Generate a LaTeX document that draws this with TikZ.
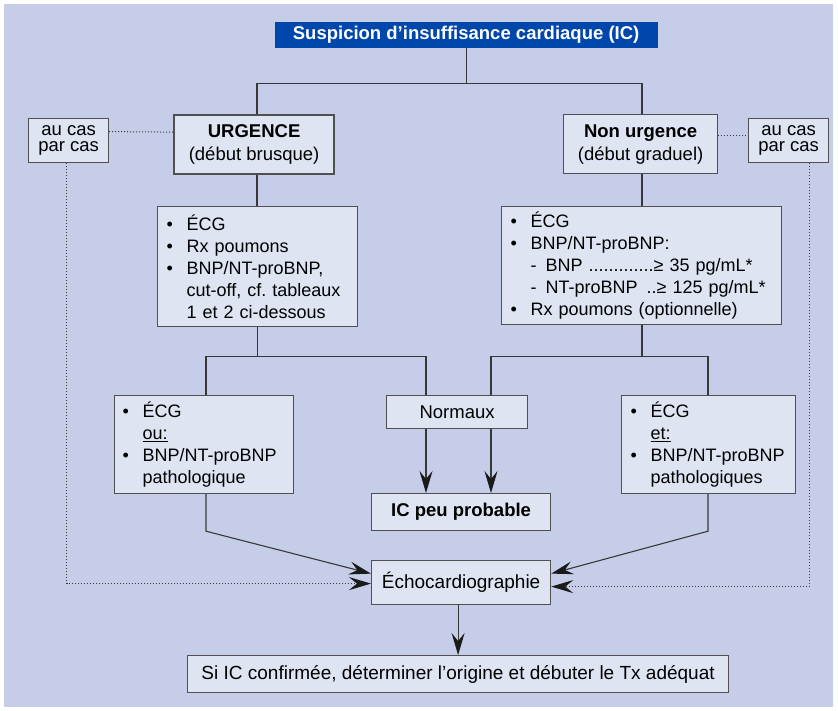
\documentclass[tikz,border=0pt]{standalone}
\usepackage{fontspec}
\setmainfont{Liberation Sans}
\usetikzlibrary{arrows.meta,calc}
\definecolor{panel}{HTML}{C6CDE8}
\definecolor{boxfill}{HTML}{DFE4F3}
\definecolor{titleblue}{HTML}{0047AB}
\definecolor{linec}{HTML}{383838}
\definecolor{boxline}{HTML}{505050}
\definecolor{tipc}{HTML}{1A1A1A}
\newcommand{\bul}{\makebox[20pt][l]{\textbullet}}
\newcommand{\ind}{\hspace*{20pt}}
\newcommand{\dsh}{\makebox[15pt][l]{-}}
\frenchspacing
\begin{document}
\begin{tikzpicture}[x=1pt,y=-1pt,
  box/.style={draw=boxline, line width=1.2pt, fill=boxfill, inner sep=0pt, anchor=north west,
    font=\fontsize{18.5}{23}\selectfont, align=center},
  listbox/.style={box, inner xsep=9pt, align=left, font=\fontsize{18}{22}\selectfont},
  conn/.style={draw=linec, line width=1.1pt},
  tip/.style={-{Stealth[length=22pt,width=13pt,inset=8pt,color=tipc]}},
  arr/.style={conn, tip},
  dotl/.style={draw=linec, line width=1pt, dotted},
  darr/.style={dotl, tip},
]
\useasboundingbox (0,0) rectangle (838,710);
\fill[panel] (4,4) rectangle (833,707);

% title
\node[box, draw=none, fill=titleblue, text=white, font=\fontsize{18.5}{22}\selectfont\bfseries,
  minimum width=383pt, minimum height=26pt] (title) at (274,21) {Suspicion d’insuffisance cardiaque (IC)};

% level 1
\node[box, line width=2.2pt, minimum width=160pt, minimum height=59pt] (urg) at (173,114)
  {\textbf{URGENCE}\\(début brusque)};
\node[box, minimum width=154pt, minimum height=59pt] (non) at (563,114)
  {\textbf{Non urgence}\\(début graduel)};
\node[box, font=\fontsize{18.5}{16.5}\selectfont, minimum width=80pt, minimum height=44pt] (aucL) at (28,118)
  {au cas\\par cas};
\node[box, font=\fontsize{18.5}{16.5}\selectfont, minimum width=80pt, minimum height=44pt] (aucR) at (748,118)
  {au cas\\par cas};

% level 2
\node[listbox, text width=182pt, minimum height=120pt] (b1) at (157,206)
  {\bul ÉCG\\ \bul Rx poumons\\ \bul BNP/NT-proBNP,\\ \ind cut-off, cf. tableaux\\ \ind 1 et 2 ci-dessous};
\node[listbox, text width=262pt, minimum height=118pt] (b2) at (501,206)
  {\bul ÉCG\\ \bul BNP/NT-proBNP:\\ \ind\dsh BNP .............≥ 35 pg/mL*\\ \ind\dsh NT-proBNP \,..≥ 125 pg/mL*\\ \bul Rx poumons (optionnelle)};

% level 3
\node[listbox, inner xsep=8pt, text width=163pt, minimum height=98pt] (b3) at (114,395)
  {\bul ÉCG\\ \ind\underline{ou:}\\ \bul BNP/NT-proBNP\\ \ind pathologique};
\node[box, minimum width=141pt, minimum height=33pt] (norm) at (386,395) {Normaux};
\node[listbox, text width=156pt, minimum height=98pt] (b4) at (621,395)
  {\bul ÉCG\\ \ind\underline{et:}\\ \bul BNP/NT-proBNP\\ \ind pathologiques};

\node[box, minimum width=179pt, minimum height=37pt] (ic) at (371,493) {\textbf{IC peu probable}};
\node[box, minimum width=179pt, minimum height=44pt, font=\fontsize{19}{23}\selectfont] (echo) at (371,560) {Échocardiographie};
\node[box, minimum width=541pt, minimum height=37pt, font=\fontsize{19}{23}\selectfont] (fin) at (187,655)
  {Si IC confirmée, déterminer l’origine et débuter le Tx adéquat};

% helper coordinates
\coordinate (xl) at (257,0);
\coordinate (xr) at (642,0);
\coordinate (b3x) at (206,0);
\coordinate (nlx) at (426,0);
\coordinate (nrx) at (491,0);
\coordinate (b4x) at (708,0);

% connectors top
\draw[conn] (title.south) -- ++(0,35) coordinate (tj);
\draw[conn] (urg.north -| xl) |- (tj) -| (non.north -| xr);
\draw[conn] (urg.south -| xl) -- (b1.north -| xl);
\draw[conn] (non.south -| xr) -- (b2.north -| xr);
\draw[dotl] ($(aucL.east)+(0,-9)$) -- ($(urg.west)+(0,-12.5)$);
\draw[dotl] ($(non.east)+(0,-8.5)$) -- ($(aucR.west)+(0,-5)$);

% splits
\draw[conn] (b1.south) -- ++(0,29) coordinate (s1);
\draw[conn] (b3.north -| b3x) |- (s1) -| (norm.north -| nlx);
\draw[conn] (b2.south -| xr) -- ++(0,31) coordinate (s2);
\draw[conn] (norm.north -| nrx) |- (s2) -| (b4.north -| b4x);

% to IC peu probable
\draw[arr] (norm.south -| nlx) -- (ic.north -| nlx);
\draw[arr] (norm.south -| nrx) -- (ic.north -| nrx);

% to echo
\draw[arr] (b3.south -| b3x) -- ++(0,37) -- ($(echo.west)+(0,-9)$);
\draw[arr] (b4.south -| b4x) -- ++(0,37) -- ($(echo.east)+(0,-9)$);
\draw[darr] ($(aucL.south)+(-2,0)$) |- ($(echo.west)+(0,1)$);
\draw[darr] ($(aucR.south)+(21,0)$) |- ($(echo.east)+(0,4)$);

% to final
\draw[arr] (echo.south -| fin.north) -- (fin.north);
\end{tikzpicture}
\end{document}
